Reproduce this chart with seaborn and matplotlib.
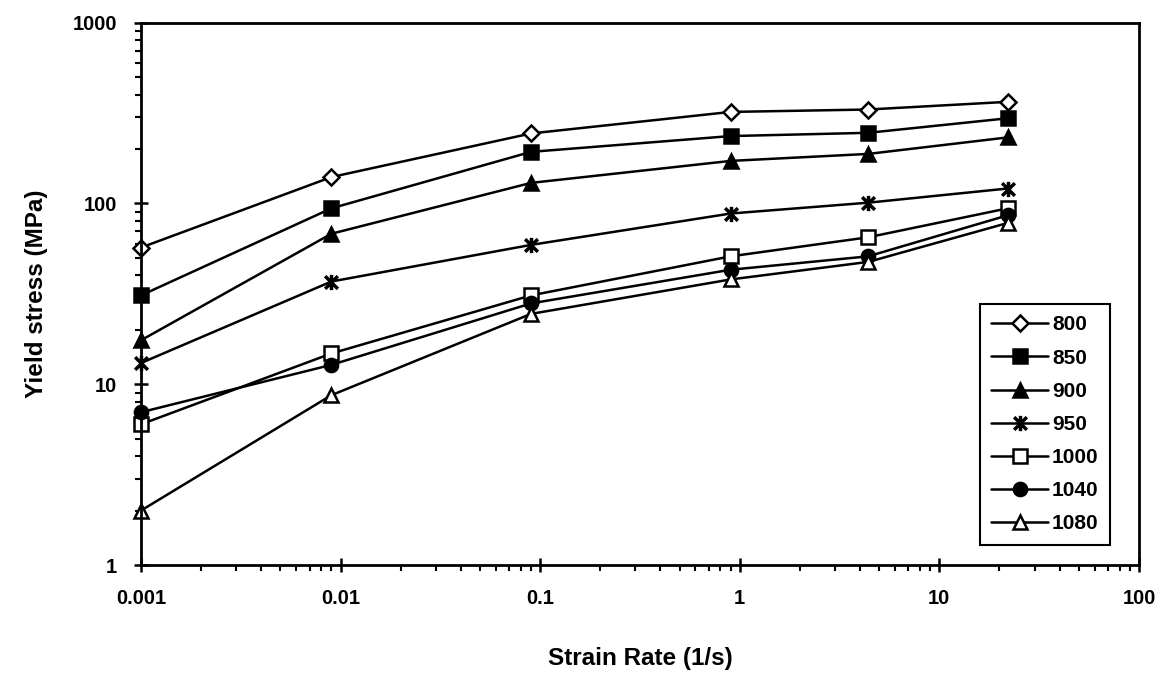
import numpy as np
import pandas as pd
import matplotlib
matplotlib.use("Agg")
import matplotlib.pyplot as plt
import matplotlib.ticker as ticker
from matplotlib.path import Path
import seaborn as sns

sns.set_style("white")
plt.rcParams['font.family'] = ['Liberation Sans', 'DejaVu Sans']
plt.rcParams['text.color'] = 'black'
plt.rcParams['axes.labelcolor'] = 'black'

# strain rates (1/s)
strain_rate = [0.001, 0.009, 0.09, 0.9, 4.4, 22]

# yield stress (MPa) per temperature
temps = ["800", "850", "900", "950", "1000", "1040", "1080"]
ys_800 = [57, 140, 244, 321, 331, 365]
ys_850 = [31, 94, 193, 236, 246, 296]
ys_900 = [17.5, 68, 130, 172, 188, 232]
ys_950 = [13.1, 37, 59, 88, 101, 121]
ys_1000 = [6.0, 14.8, 31, 51, 65, 94]
ys_1040 = [7.0, 12.8, 28, 43, 51, 86]
ys_1080 = [2.0, 8.7, 24.5, 38, 47.5, 78]
all_ys = [ys_800, ys_850, ys_900, ys_950, ys_1000, ys_1040, ys_1080]

# star marker: X with vertical bar
star = Path([(-1, -1), (1, 1), (-1, 1), (1, -1), (0, -1.2), (0, 1.2)],
            [Path.MOVETO, Path.LINETO, Path.MOVETO, Path.LINETO, Path.MOVETO, Path.LINETO])

marker_style = {
    "800": dict(marker="D", markersize=8, markerfacecolor="white"),
    "850": dict(marker="s", markersize=10, markerfacecolor="black"),
    "900": dict(marker="^", markersize=10, markerfacecolor="black"),
    "950": dict(marker=star, markersize=11, markerfacecolor="none", markeredgewidth=2.5),
    "1000": dict(marker="s", markersize=10, markerfacecolor="white"),
    "1040": dict(marker="o", markersize=9.5, markerfacecolor="black"),
    "1080": dict(marker="^", markersize=10, markerfacecolor="white"),
}

rows = []
for t, ys in zip(temps, all_ys):
    for x, y in zip(strain_rate, ys):
        rows.append((t, x, y))
df = pd.DataFrame(rows, columns=["Temp", "Strain Rate", "Yield stress"])

fig = plt.figure(figsize=(11.61, 6.76), dpi=100)
ax = fig.add_axes([0.1214, 0.1642, 0.8596, 0.8022])

for t in temps:
    st = dict(marker_style[t])
    st.setdefault("markeredgewidth", 1.8)
    sns.lineplot(data=df[df["Temp"] == t], x="Strain Rate", y="Yield stress",
                 color="black", linewidth=1.8, markeredgecolor="black",
                 errorbar=None, label=t, ax=ax, clip_on=False, **st)

ax.set_xscale("log")
ax.set_yscale("log")
ax.set_xlim(0.001, 100)
ax.set_ylim(1, 1000)
fmt = ticker.FuncFormatter(lambda v, p: f"{v:g}")
ax.xaxis.set_major_formatter(fmt)
ax.yaxis.set_major_formatter(fmt)
ax.xaxis.set_minor_formatter(ticker.NullFormatter())
ax.yaxis.set_minor_formatter(ticker.NullFormatter())
ax.xaxis.set_minor_locator(ticker.LogLocator(base=10, subs=np.arange(2, 10)))
ax.yaxis.set_minor_locator(ticker.LogLocator(base=10, subs=np.arange(2, 10)))

ax.tick_params(which="major", direction="inout", length=10, width=1.8,
               colors="black", labelsize=14.5, bottom=True, left=True)
ax.tick_params(axis="x", which="major", pad=12)
ax.tick_params(axis="y", which="major", pad=12)
ax.tick_params(which="minor", direction="out", length=4, width=1.5,
               colors="black", bottom=True, left=True)
for lab in ax.get_xticklabels() + ax.get_yticklabels():
    lab.set_fontweight("bold")

for sp in ax.spines.values():
    sp.set_color("black")
    sp.set_linewidth(2)

ax.set_xlabel("Strain Rate (1/s)", fontsize=17.5, fontweight="bold", labelpad=28)
ax.set_ylabel("Yield stress (MPa)", fontsize=17.5, fontweight="bold", labelpad=18)

leg = ax.legend(loc="lower right", bbox_to_anchor=(0.971, 0.037), borderaxespad=0,
                frameon=True, fancybox=False, framealpha=1, edgecolor="black",
                handlelength=2.7, labelspacing=0.68, handletextpad=0.2,
                borderpad=0.55, prop={"size": 15, "weight": "bold"})
leg.get_frame().set_linewidth(1.5)

fig.savefig("out.png", dpi=100)
